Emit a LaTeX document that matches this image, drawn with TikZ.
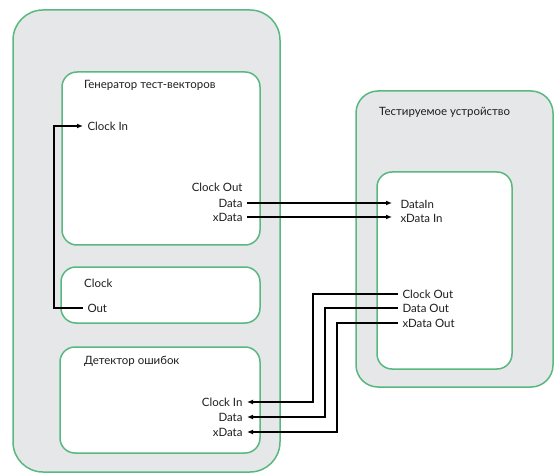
\documentclass[tikz,border=0pt]{standalone}
\usepackage{fontspec}
\setmainfont{Lato}
\usetikzlibrary{arrows.meta}
\definecolor{boxgreen}{RGB}{88,184,128}
\definecolor{boxgrey}{RGB}{230,231,232}
\definecolor{ink}{RGB}{30,30,30}
\begin{document}
\begin{tikzpicture}[x=1bp, y=-1bp,
    every node/.style={font=\fontsize{11.5}{13}\selectfont, text=ink},
    outerbox/.style={draw=boxgreen, line width=1.5bp, fill=boxgrey},
    innerbox/.style={draw=boxgreen, line width=1.5bp, fill=white, rounded corners=15bp},
    port/.style={inner sep=1bp, outer sep=3.5bp},
    wire/.style={line width=1.4bp, -{Latex[length=6bp, width=5bp]}}]
  \useasboundingbox (0,0) rectangle (555,476);

  % Tester and device under test
  \draw[outerbox, rounded corners=30bp] (13,10) rectangle (280,472);
  \draw[outerbox, rounded corners=22bp] (356,91) rectangle (553,387);
  \draw[innerbox] (62,72) rectangle (260,245);
  \draw[innerbox] (61,267) rectangle (260,323);
  \draw[innerbox] (60,347) rectangle (260,453);
  \draw[innerbox] (377,172) rectangle (512,369);

  % Block titles
  \node[anchor=west, inner sep=0] (gentitle) at (84,85) {Генератор тест-векторов};
  \node[anchor=west, inner sep=0] (clktitle) at (84,283) {Clock};
  \node[anchor=west, inner sep=0] (dettitle) at (84,361) {Детектор ошибок};
  \node[anchor=west, inner sep=0] (duttitle) at (379,112) {Тестируемое устройство};

  % Ports
  \node[port, anchor=west] (gci) at (83,126) {Clock In};
  \node[port, anchor=east] (gco) at (247,187) {Clock Out};
  \node[port, anchor=east] (gd) at (247,203) {Data};
  \node[port, anchor=east] (gx) at (247,217) {xData};
  \node[port, anchor=west] (cout) at (83,308) {Out};
  \node[port, anchor=east] (dci) at (247,402) {Clock In};
  \node[port, anchor=east] (dd) at (247,417) {Data};
  \node[port, anchor=east] (dx) at (247,432) {xData};
  \node[port, anchor=west] (udi) at (396,204) {DataIn};
  \node[port, anchor=west] (uxi) at (396,218) {xData In};
  \node[port, anchor=west] (uco) at (398,294) {Clock Out};
  \node[port, anchor=west] (udo) at (398,308) {Data Out};
  \node[port, anchor=west] (uxo) at (398,323) {xData Out};

  % Connections
  \draw[wire] (cout.west) -- ++(-29,0) |- (gci.west);
  \foreach \s/\d in {gd/udi, gx/uxi}
    \draw[wire, shorten >=4bp] (\s.east) -- (\s.east -| \d.west);
  \foreach \s/\d/\x in {uco/dci/313, udo/dd/325, uxo/dx/337} {
    \coordinate (bend) at (\x,0);
    \draw[wire] (\s.west) -- (\s.west -| bend) |- (\d.east);
  }
\end{tikzpicture}
\end{document}
